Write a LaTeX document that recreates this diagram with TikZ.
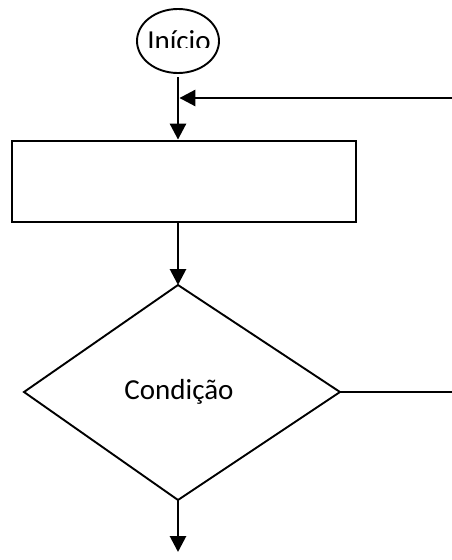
\documentclass[tikz,border=0pt]{standalone}
\usepackage{fontspec}
\setmainfont{Carlito}
\usetikzlibrary{arrows.meta,shapes.geometric}
\begin{document}
\begin{tikzpicture}[x=1pt,y=-1pt,
  flow/.style={line width=2.8pt,-{Triangle[length=16pt,width=16pt]}},
  plain/.style={line width=1.9pt},
  lbl/.style={font=\fontsize{29}{33}\selectfont,inner sep=0pt}]
\useasboundingbox (0,0) rectangle (452,560);
% start terminal
\node[draw,line width=1.9pt,ellipse,minimum width=82pt,minimum height=64pt,inner sep=0pt] (inicio) at (178,41) {};
\begin{scope}
  \clip (130,5) rectangle (230,47.5);
  \node[lbl,anchor=base] (inicioText) at (179,50) {Início};
\end{scope}
% process box
\node[draw,line width=2.8pt,rectangle,minimum width=344pt,minimum height=81pt,inner sep=0pt] (proc) at (184,181.5) {};
% decision
\coordinate (dtop) at (178,285);
\coordinate (dleft) at (24,392);
\coordinate (dright) at (340,392);
\coordinate (dbot) at (178,500);
\draw[plain,line join=miter] (dtop) -- (dright) -- (dbot) -- (dleft) -- cycle;
\node[lbl,anchor=base] (cond) at (179,399) {Condição};
% loop-back entry and exits
\coordinate (stemtop) at (178,77);
\coordinate (loopin) at (452,98);
\coordinate (merge) at (178,98);
\coordinate (exitr) at (452,392);
\coordinate (exitd) at (178,552);
\draw[line width=2.8pt] (stemtop) -- (merge);
\draw[flow] (merge) -- (proc.north -| merge);
\draw[flow] (loopin) -- ([xshift=1.4pt]merge);
\draw[flow] (proc.south -| merge) -- (dtop);
\draw[plain] (dright) -- (exitr);
\draw[flow] (dbot) -- (exitd);
\end{tikzpicture}
\end{document}
